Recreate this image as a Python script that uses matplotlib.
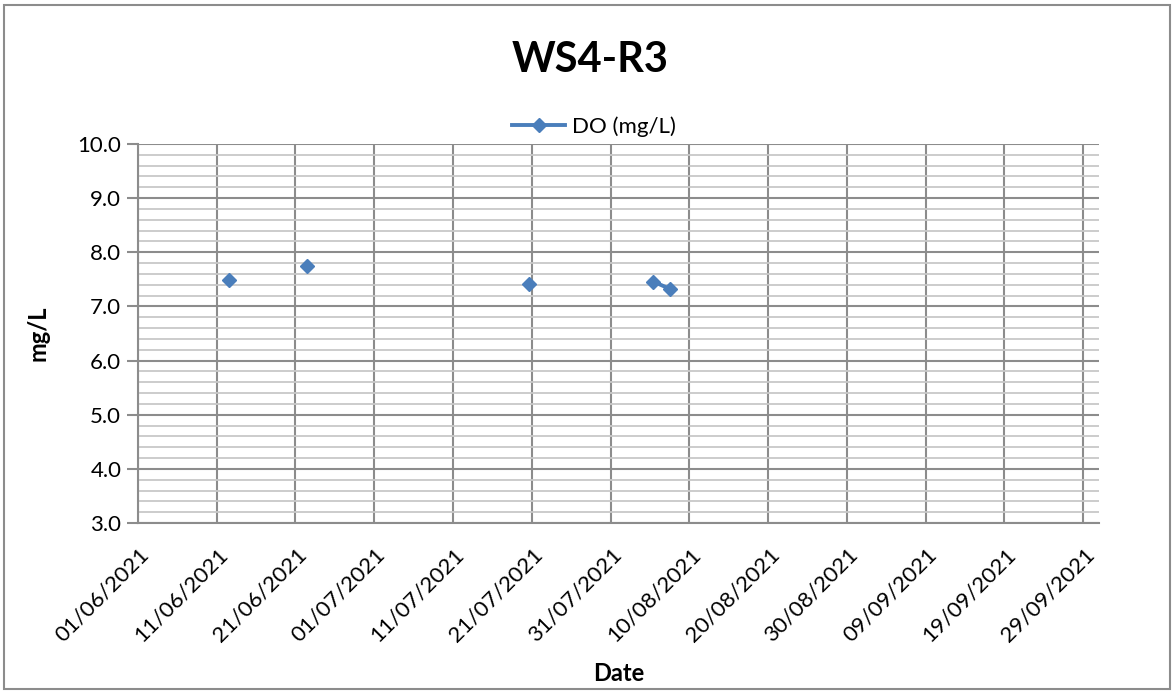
import matplotlib
matplotlib.use("Agg")
import matplotlib.pyplot as plt
import matplotlib.dates as mdates
import matplotlib.transforms as mtransforms
from matplotlib.patches import Rectangle
import numpy as np
import datetime as dt

# sample dates (blank rows give the gaps in the line)
dates = [dt.datetime(2021, 6, 12, 12), dt.datetime(2021, 6, 17),
         dt.datetime(2021, 6, 22, 10), dt.datetime(2021, 7, 5),
         dt.datetime(2021, 7, 20, 14), dt.datetime(2021, 7, 28),
         dt.datetime(2021, 8, 5, 10), dt.datetime(2021, 8, 7, 14)]
do_vals = [7.48, np.nan, 7.75, np.nan, 7.42, np.nan, 7.46, 7.32]

title = "WS4-R3"
series_name = "DO (mg/L)"

plt.rcParams['font.family'] = ['Lato', 'DejaVu Sans']

fig = plt.figure(figsize=(11.74, 6.92), dpi=100)
ax = fig.add_axes([0.1175, 0.244, 0.8186, 0.548])

blue = '#4a7ebb'
ax.plot(dates, do_vals, color=blue, lw=2.8, marker='D', ms=7.5,
        label=series_name)

ax.set_ylim(3, 10)
ax.set_xlim(dt.datetime(2021, 6, 1), dt.datetime(2021, 10, 1))

ax.set_yticks(np.arange(3, 10.01, 1))
ax.set_yticks(np.arange(3, 10.01, 0.2), minor=True)
ax.yaxis.set_major_formatter(matplotlib.ticker.FormatStrFormatter('%.1f'))

xt = [dt.datetime(2021, 6, 1) + dt.timedelta(days=10 * i) for i in range(13)]
ax.set_xticks(xt)
ax.xaxis.set_major_formatter(mdates.DateFormatter('%d/%m/%Y'))

ax.grid(True, which='major', axis='both', color='#8c8c8c', lw=1.5)
ax.grid(True, which='minor', axis='y', color='#c8c8c8', lw=1.3)
ax.set_axisbelow(True)

for s in ['top', 'right']:
    ax.spines[s].set_visible(False)
for s in ['left', 'bottom']:
    ax.spines[s].set_color('#8c8c8c')
    ax.spines[s].set_linewidth(1.5)

ax.tick_params(axis='y', which='major', length=8, width=1.5, color='#8c8c8c',
               labelsize=16, pad=4)
ax.tick_params(axis='y', which='minor', length=0)
ax.tick_params(axis='x', length=0, labelsize=16, pad=0)
shift = mtransforms.ScaledTranslation(1 / 100, -21 / 100, fig.dpi_scale_trans)
for lab in ax.get_xticklabels():
    lab.set_rotation(45)
    lab.set_ha('right')
    lab.set_va('top')
    lab.set_rotation_mode('anchor')
    lab.set_transform(lab.get_transform() + shift)

ax.set_ylabel('mg/L', fontsize=17, fontweight='bold', labelpad=20)
ax.set_xlabel('Date', fontsize=17, fontweight='bold')
ax.xaxis.set_label_coords(0.5, -0.365)

fig.text(0.503, 0.913, title, ha='center', va='center', fontsize=30,
         fontweight='bold')
fig.legend(loc='center', bbox_to_anchor=(0.506, 0.817), frameon=False,
           fontsize=16, handlelength=2.4, handletextpad=0.3)

fig.patches.append(Rectangle((0.003, 0.005), 0.994, 0.988,
                             transform=fig.transFigure, fill=False,
                             edgecolor='#8c8c8c', lw=1.5))

fig.savefig('out.png', dpi=100)
